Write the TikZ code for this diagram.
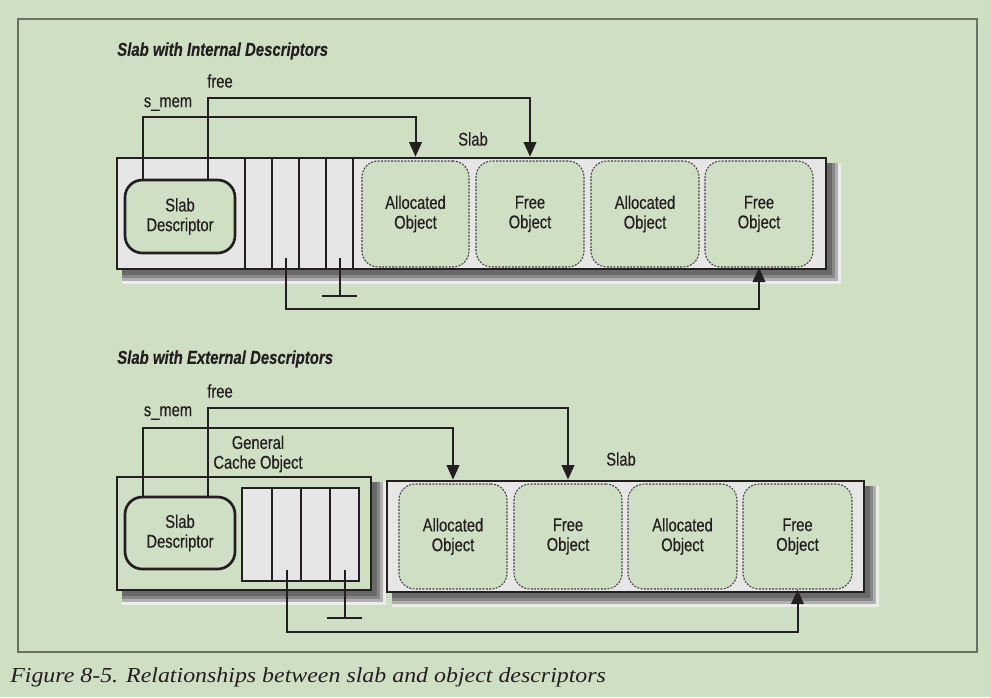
\documentclass[tikz,border=0pt]{standalone}
\usepackage{fontspec}
\setsansfont{Liberation Sans}[FakeStretch=0.8,FakeBold=0.4]
\newfontfamily\capfont{Liberation Serif}[FakeStretch=1.12]
\usetikzlibrary{arrows.meta,backgrounds}
\definecolor{bg}{RGB}{207,223,195}
\definecolor{slabgray}{RGB}{230,230,230}
\definecolor{ink}{RGB}{35,31,32}
\definecolor{framec}{RGB}{105,115,100}
\definecolor{shA}{RGB}{236,236,236}
\definecolor{shB}{RGB}{175,175,175}
\definecolor{shC}{RGB}{135,135,135}
\definecolor{shD}{RGB}{105,105,105}
\tikzset{
  ptr/.style={draw=ink, line width=1.5pt, -{Triangle[length=11pt,width=9.5pt]}},
  plainline/.style={draw=ink, line width=1.5pt},
  slabbox/.style={draw=ink, line width=2pt, fill=slabgray, inner sep=0pt},
  cellbox/.style={draw=ink, line width=2pt, fill=slabgray, inner sep=0pt},
  cachebox/.style={draw=ink, line width=2pt, fill=bg, inner sep=0pt},
  objbox/.style={draw=ink!85, line width=0.8pt, dash pattern=on 1.5pt off 1pt,
     fill=bg, rounded corners=12pt, inner sep=0pt, align=center, text=ink,
     font=\sffamily\fontsize{13.8}{14.8}\selectfont},
  descbox/.style={draw=ink, line width=2pt, fill=bg, rounded corners=13pt,
     inner sep=0pt, align=center, text=ink,
     font=\sffamily\fontsize{13.8}{14.8}\selectfont},
  lbl/.style={font=\sffamily\fontsize{13.8}{14.8}\selectfont, text=ink, inner sep=0pt},
  titlelbl/.style={font=\sffamily\bfseries\itshape\fontsize{14}{16}\selectfont,
     text=ink, inner sep=0pt, anchor=west},
  caplbl/.style={font=\capfont\itshape\fontsize{16}{18}\selectfont,
     text=ink, inner sep=0pt, anchor=west},
  framebox/.style={draw=framec, line width=1pt, inner sep=0pt},
}
% \boxnode{style}{name}{x0}{y0}{x1}{y1}{text}
\newcommand{\boxnode}[7]{%
  \node[#1, minimum width={(#5-#3)*0.75pt}, minimum height={(#6-#4)*0.75pt}]
    (#2) at ({(#3+#5)/2},{(#4+#6)/2}) {#7};}
\newcommand{\boxshadow}[1]{%
  \fill[shA] ([shift={(6,6)}]#1.north west) rectangle ([shift={(14,14)}]#1.south east);
  \fill[shB] ([shift={(6,6)}]#1.north west) rectangle ([shift={(11,11)}]#1.south east);
  \fill[shC] ([shift={(6,6)}]#1.north west) rectangle ([shift={(8,8)}]#1.south east);
  \fill[shD] ([shift={(6,6)}]#1.north west) rectangle ([shift={(5,5)}]#1.south east);
}
\begin{document}
\begin{tikzpicture}[x=0.75pt,y=-0.75pt]
\useasboundingbox (0,0) rectangle (991,697);
\begin{pgfonlayer}{background}
\fill[bg] (0,0) rectangle (991,697);
\end{pgfonlayer}
\boxnode{framebox}{frame}{18}{19}{977}{652}{}

% ---------------- Internal descriptors ----------------
\node[titlelbl] (title1) at (117,51) {Slab with Internal Descriptors};
\boxnode{slabbox}{slab1}{117}{158}{826}{269}{}
\foreach \i/\a/\b in {1/245/272, 2/272/299, 3/299/326, 4/326/353}
  {\boxnode{cellbox}{ta\i}{\a}{158}{\b}{269}{}}
\boxnode{descbox}{sd1}{125}{180}{235}{253}{Slab\\Descriptor}
\boxnode{objbox}{to1}{362}{161}{469}{267}{Allocated\\Object}
\boxnode{objbox}{to2}{476}{161}{584}{267}{Free\\Object}
\boxnode{objbox}{to3}{591}{161}{699}{267}{Allocated\\Object}
\boxnode{objbox}{to4}{705}{161}{813}{267}{Free\\Object}
\node[lbl] (slablbl1) at (473,139) {Slab};
\node[lbl] (free1) at (220,81) {free};
\node[lbl] (smem1) at (168,104) {s\_mem};
\coordinate (sm1) at (143,117);
\coordinate (fr1) at (208,98);
\coordinate (pl1) at (0,309);
\coordinate (nl1) at (0,296);
\draw[ptr] (sd1.north -| sm1) |- (to1.north |- sm1) -- (to1.north |- slab1.north);
\draw[ptr] (sd1.north -| fr1) |- (to2.north |- fr1) -- (to2.north |- slab1.north);
\draw[ptr] ([yshift=9pt]ta2.south) |- (to4.south |- pl1) -- (to4.south);
\draw[plainline] ([yshift=9pt]ta4.south) -- (ta4.south |- nl1) coordinate (nb1);
\draw[plainline] ([xshift=-13pt]nb1) -- ([xshift=13pt]nb1);
\begin{pgfonlayer}{background}
\boxshadow{slab1}
\end{pgfonlayer}

% ---------------- External descriptors ----------------
\node[titlelbl] (title2) at (117,359) {Slab with External Descriptors};
\boxnode{cachebox}{gc}{117}{477}{371}{590}{}
\node[lbl, align=center] (gclbl) at (258,454) {General\\Cache Object};
\boxnode{descbox}{sd2}{125}{497}{235}{569}{Slab\\Descriptor}
\foreach \i/\a/\b in {1/242/272, 2/272/301, 3/301/330, 4/330/359}
  {\boxnode{cellbox}{ba\i}{\a}{488}{\b}{581}{}}
\boxnode{slabbox}{slab2}{387}{481}{864}{592}{}
\boxnode{objbox}{bo1}{399}{484}{507}{589}{Allocated\\Object}
\boxnode{objbox}{bo2}{514}{484}{622}{589}{Free\\Object}
\boxnode{objbox}{bo3}{628}{484}{737}{589}{Allocated\\Object}
\boxnode{objbox}{bo4}{743}{484}{852}{589}{Free\\Object}
\node[lbl] (slablbl2) at (621,459) {Slab};
\node[lbl] (free2) at (220,391) {free};
\node[lbl] (smem2) at (168,413) {s\_mem};
\coordinate (sm2) at (143,428);
\coordinate (fr2) at (208,408);
\coordinate (pl2) at (0,632);
\coordinate (nl2) at (0,618);
\draw[ptr] (sd2.north -| sm2) |- (bo1.north |- sm2) -- (bo1.north |- slab2.north);
\draw[ptr] (sd2.north -| fr2) |- (bo2.north |- fr2) -- (bo2.north |- slab2.north);
\draw[ptr] ([yshift=9pt]ba2.south) |- (bo4.south |- pl2) -- (bo4.south);
\draw[plainline] ([yshift=9pt]ba4.south) -- (ba4.south |- nl2) coordinate (nb2);
\draw[plainline] ([xshift=-13pt]nb2) -- ([xshift=13pt]nb2);
\begin{pgfonlayer}{background}
\boxshadow{gc}
\boxshadow{slab2}
\end{pgfonlayer}

\node[caplbl] (caption) at (10,677) {Figure 8-5. Relationships between slab and object descriptors};
\end{tikzpicture}
\end{document}
